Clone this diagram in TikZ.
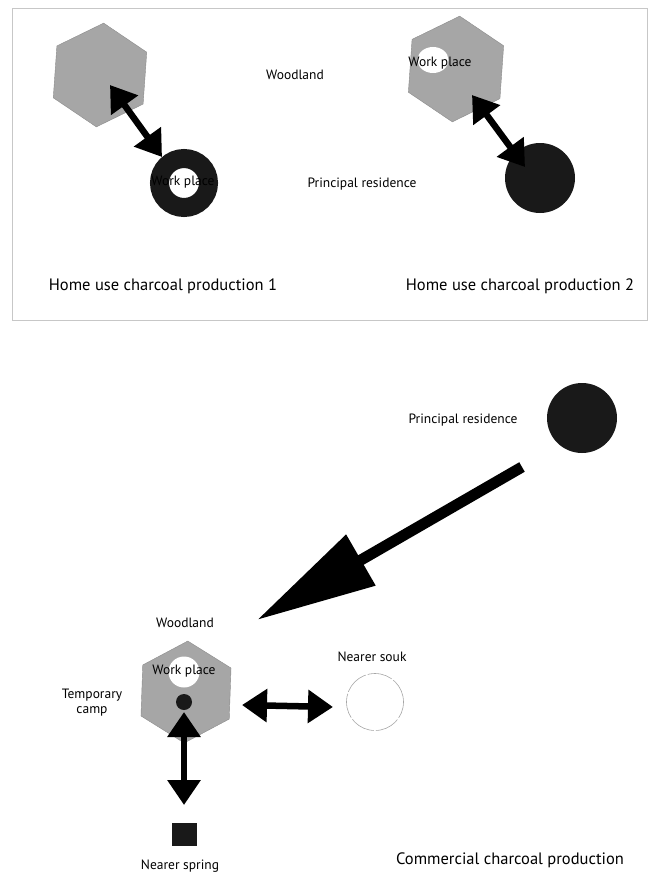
\documentclass[tikz,border=0pt]{standalone}
\usepackage{fontspec}
\setmainfont{PT Sans}
\usetikzlibrary{arrows.meta,shapes.geometric}
\tikzset{
	wood/.style={regular polygon, regular polygon sides=6, fill=black!35, draw=black!45, inner sep=0pt, outer sep=0pt, minimum size=#1},
	home/.style={circle, fill=black!90, inner sep=0pt, outer sep=0pt, minimum size=#1},
	label/.style={font=\fontsize{13.5}{15}\selectfont, inner sep=0pt},
	title/.style={font=\fontsize{16.5}{18}\selectfont, inner sep=0pt},
	link/.style={line width=6.5pt, {Triangle[length=25pt,width=32pt]}-{Triangle[length=25pt,width=32pt]}}
}
\begin{document}
\begin{tikzpicture}[x=1pt,y=-1pt]
		%%%%% START %%%%%
		\useasboundingbox (0,0) rectangle (652,872);
		
		\draw[black!22, line width=0.8pt] (12,8) rectangle (647,320);
		
		% home use 1
		\node[wood=104pt, shape border rotate=26] (wood1) at (100,75) {};
		\node[circle, draw=black!90, line width=19pt, fill=white, minimum size=49pt, inner sep=0pt] (work1) at (184,183) {};
		\node[label] (worktxt1) at (183,182) {Work place};
		\coordinate (a1s) at (110,85);
		\coordinate (a1e) at (162,157);
		\draw[link] (a1s) -- (a1e);
		
		\node[label] (woodtxt) at (295,75) {Woodland};
		\node[label] (restxt) at (362,184) {Principal residence};
		\node[title] (home1) at (163,286) {Home use charcoal production 1};
		
		% home use 2
		\node[wood=106pt, shape border rotate=26] (wood2) at (456,69) {};
		\node[ellipse, fill=white, minimum width=31pt, minimum height=26pt, inner sep=0pt] (work2) at (433,60) {};
		\node[label] (worktxt2) at (440,63) {Work place};
		\node[home=70pt] (res2) at (540,178) {};
		\coordinate (a2s) at (472,95);
		\coordinate (a2e) at (525,167);
		\draw[link] (a2s) -- (a2e);
		\node[title] (home2) at (520,286) {Home use charcoal production 2};
		
		% commercial
		\node[home=70pt] (res3) at (582,418) {};
		\node[label] (restxt3) at (463,420) {Principal residence};
		\coordinate (a3s) at (522,467);
		\coordinate (a3e) at (257,620);
		\draw[line width=11pt, -{Triangle[length=120pt,width=56pt]}] (a3s) -- (a3e);
		
		\node[label] (woodtxt3) at (185,623) {Woodland};
		\node[wood=102pt, shape border rotate=28] (wood3) at (186,692) {};
		\node[circle, fill=white, minimum size=31pt, inner sep=0pt] (work3) at (184,672) {};
		\node[label] (worktxt3) at (184,671) {Work place};
		\node[circle, fill=black!90, minimum size=16pt, inner sep=0pt] (camp) at (184,702) {};
		\node[label, align=center] (camptxt) at (92,703) {Temporary\\camp};
		
		\node[fill=black!90, minimum width=25pt, minimum height=23pt, inner sep=0pt] (spring) at (184.5,834) {};
		\node[label] (springtxt) at (180,866) {Nearer spring};
		\coordinate (a4s) at (184,712);
		\coordinate (a4e) at (184,805);
		\draw[link] (a4s) -- (a4e);
		
		\node[circle, draw=black!35, line width=0.6pt, dash pattern=on 25pt off 2pt, minimum size=57pt, inner sep=0pt] (souk) at (375,702) {};
		\node[label] (souktxt) at (372,657) {Nearer souk};
		\coordinate (a5s) at (242,705);
		\coordinate (a5e) at (333,707);
		\draw[link] (a5s) -- (a5e);
		
		\node[title] (comm) at (510,860) {Commercial charcoal production};
		%%%%% END %%%%%
\end{tikzpicture}
\end{document}
